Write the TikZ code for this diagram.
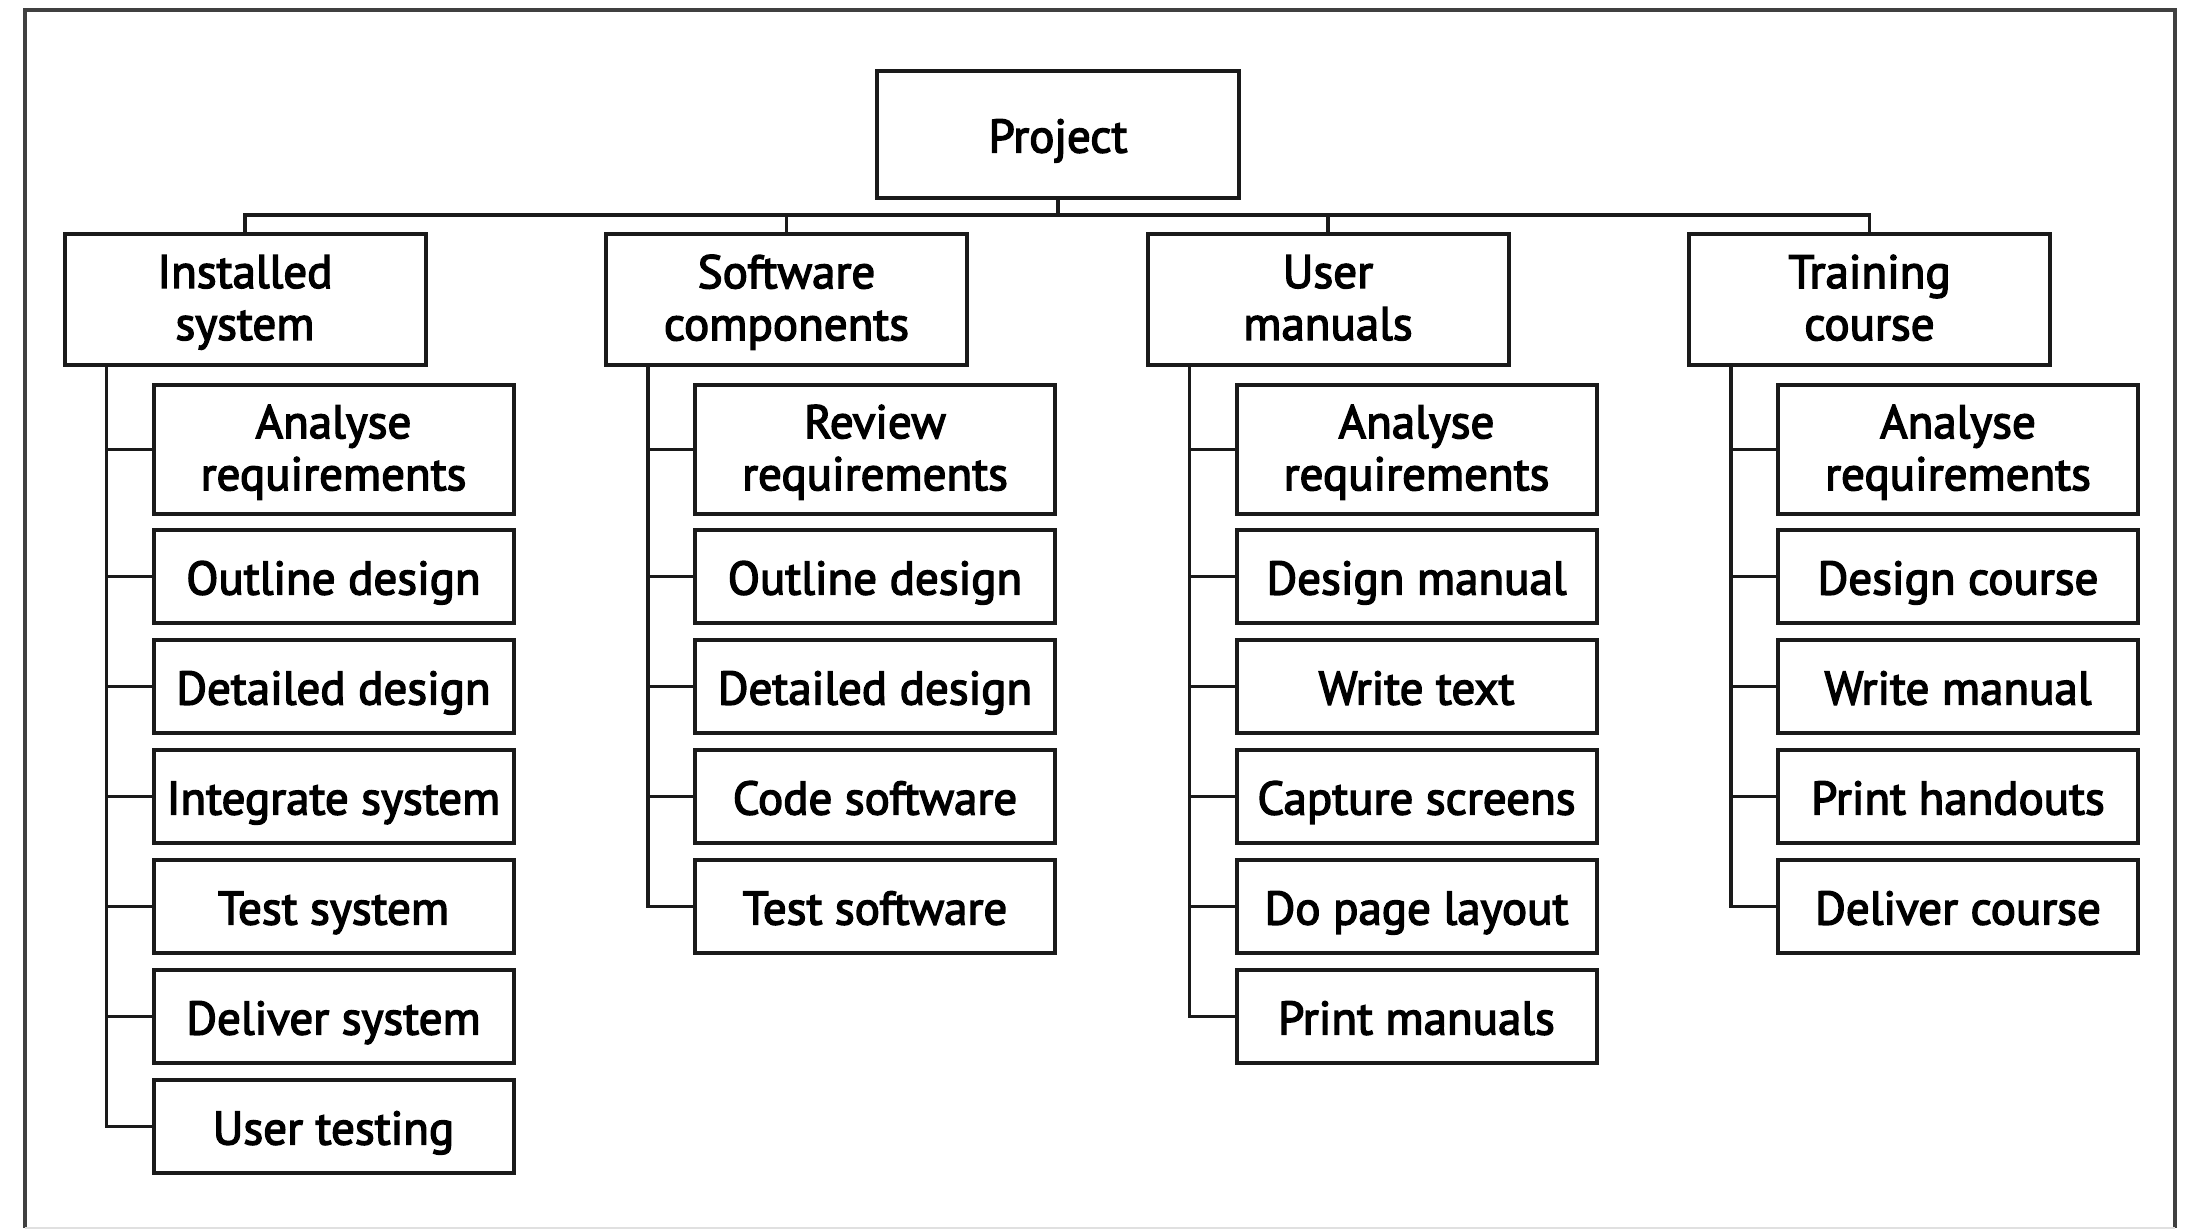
\documentclass[tikz,border=0pt]{standalone}
\usepackage{fontspec}
\setmainfont{PT Sans}
\newfontfamily\boxfont[FakeBold=3]{PT Sans}
\usepackage{tikz}
\usetikzlibrary{positioning}
\definecolor{ink}{HTML}{1A1A1A}
\definecolor{framegray}{HTML}{404040}
\tikzset{
  box/.style={draw=ink, line width=2pt, fill=white, align=center, inner sep=0pt,
    font=\boxfont\fontsize{23.5}{26}\selectfont},
  oneline/.style={text height=18pt, text depth=0pt},
  twoline/.style={text depth=2pt},
  projbox/.style={box, oneline, minimum width=181pt, minimum height=63.5pt},
  phase/.style={box, twoline, minimum width=180.5pt, minimum height=65.5pt},
  task/.style={box, oneline, minimum width=180pt, minimum height=46.5pt},
  tasktwo/.style={box, twoline, minimum width=180pt, minimum height=64.5pt},
  link/.style={draw=ink, line width=1.6pt}
}

\begin{document}
\begin{tikzpicture}

  \newcommand\X{270.75pt}
  \newcommand\Y{55pt}

  \useasboundingbox (0,0) rectangle (1093pt,-615.5pt);

  % frame round the chart
  \draw[framegray, line width=2pt]
  (12.5pt,-614pt) -- (12.5pt,-5pt) -- (1087.5pt,-5pt) -- (1087.5pt,-614pt);
  \draw[black!12, line width=1pt] (12.5pt,-614pt) -- (1087.5pt,-614pt);

  \node[projbox] (proj) at (529pt,-67.25pt) {Project};
  \coordinate (bus) at (0,-107.5pt);

  \node[phase] (inst)  at (122.5pt+0*\X,-149.75pt) {Installed\\system};
  \node[phase] (soft)  at (122.5pt+1*\X,-149.75pt) {Software\\components};
  \node[phase] (umans) at (122.5pt+2*\X,-149.75pt) {User\\manuals};
  \node[phase] (train) at (122.5pt+3*\X,-149.75pt) {Training\\course};

  \draw[link] (inst.north) -- (inst.north |- bus) -- (train.north |- bus) -- (train.north);
  \draw[link] (proj.south) -- (proj.south |- bus);
  \draw[link] (soft.north) -- (soft.north |- bus);
  \draw[link] (umans.north) -- (umans.north |- bus);

  % installed system
  \node[tasktwo] (inst1) at (166.75pt+0*\X,-224.75pt) {Analyse\\requirements};
  \node[task] (inst2) at (166.75pt+0*\X,-288.25pt-0*\Y) {Outline design};
  \node[task] (inst3) at (166.75pt+0*\X,-288.25pt-1*\Y) {Detailed design};
  \node[task] (inst4) at (166.75pt+0*\X,-288.25pt-2*\Y) {Integrate system};
  \node[task] (inst5) at (166.75pt+0*\X,-288.25pt-3*\Y) {Test system};
  \node[task] (inst6) at (166.75pt+0*\X,-288.25pt-4*\Y) {Deliver system};
  \node[task] (inst7) at (166.75pt+0*\X,-288.25pt-5*\Y) {User testing};

  \coordinate (instS) at ([xshift=22pt]inst.south west);
  \draw[link] (instS) |- (inst7.west);
  \draw[link] (instS |- inst1.west) -- (inst1.west) (instS |- inst2.west) -- (inst2.west)
  (instS |- inst3.west) -- (inst3.west) (instS |- inst4.west) -- (inst4.west)
  (instS |- inst5.west) -- (inst5.west) (instS |- inst6.west) -- (inst6.west);

  % software components
  \node[tasktwo] (soft1) at (166.75pt+1*\X,-224.75pt) {Review\\requirements};
  \node[task] (soft2) at (166.75pt+1*\X,-288.25pt-0*\Y) {Outline design};
  \node[task] (soft3) at (166.75pt+1*\X,-288.25pt-1*\Y) {Detailed design};
  \node[task] (soft4) at (166.75pt+1*\X,-288.25pt-2*\Y) {Code software};
  \node[task] (soft5) at (166.75pt+1*\X,-288.25pt-3*\Y) {Test software};

  \coordinate (softS) at ([xshift=22pt]soft.south west);
  \draw[link] (softS) |- (soft5.west);
  \draw[link] (softS |- soft1.west) -- (soft1.west) (softS |- soft2.west) -- (soft2.west)
  (softS |- soft3.west) -- (soft3.west) (softS |- soft4.west) -- (soft4.west);

  % user manuals
  \node[tasktwo] (man1) at (166.75pt+2*\X,-224.75pt) {Analyse\\requirements};
  \node[task] (man2) at (166.75pt+2*\X,-288.25pt-0*\Y) {Design manual};
  \node[task] (man3) at (166.75pt+2*\X,-288.25pt-1*\Y) {Write text};
  \node[task] (man4) at (166.75pt+2*\X,-288.25pt-2*\Y) {Capture screens};
  \node[task] (man5) at (166.75pt+2*\X,-288.25pt-3*\Y) {Do page layout};
  \node[task] (man6) at (166.75pt+2*\X,-288.25pt-4*\Y) {Print manuals};

  \coordinate (manS) at ([xshift=22pt]umans.south west);
  \draw[link] (manS) |- (man6.west);
  \draw[link] (manS |- man1.west) -- (man1.west) (manS |- man2.west) -- (man2.west)
  (manS |- man3.west) -- (man3.west) (manS |- man4.west) -- (man4.west)
  (manS |- man5.west) -- (man5.west);

  % training course
  \node[tasktwo] (crs1) at (166.75pt+3*\X,-224.75pt) {Analyse\\requirements};
  \node[task] (crs2) at (166.75pt+3*\X,-288.25pt-0*\Y) {Design course};
  \node[task] (crs3) at (166.75pt+3*\X,-288.25pt-1*\Y) {Write manual};
  \node[task] (crs4) at (166.75pt+3*\X,-288.25pt-2*\Y) {Print handouts};
  \node[task] (crs5) at (166.75pt+3*\X,-288.25pt-3*\Y) {Deliver course};

  \coordinate (crsS) at ([xshift=22pt]train.south west);
  \draw[link] (crsS) |- (crs5.west);
  \draw[link] (crsS |- crs1.west) -- (crs1.west) (crsS |- crs2.west) -- (crs2.west)
  (crsS |- crs3.west) -- (crs3.west) (crsS |- crs4.west) -- (crs4.west);

\end{tikzpicture}
\end{document}
